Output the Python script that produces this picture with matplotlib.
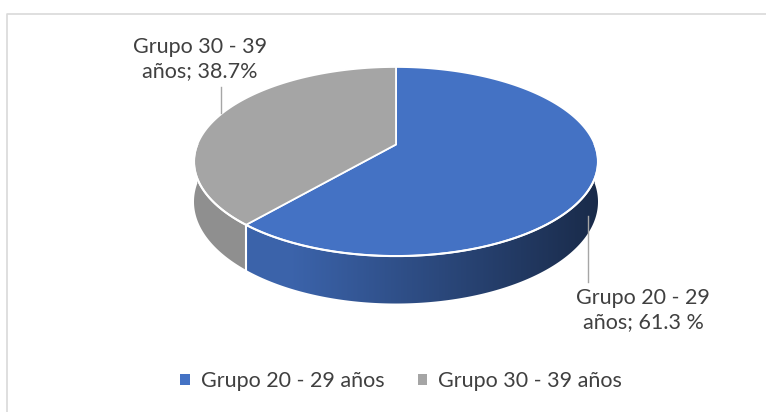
import matplotlib
matplotlib.use("Agg")
import matplotlib.pyplot as plt
import numpy as np
from matplotlib.colors import to_rgb
from matplotlib.patches import Patch, Polygon

# data
categories = ["Grupo 20 - 29 años", "Grupo 30 - 39 años"]
shares = [61.3, 38.7]
label_texts = ["Grupo 20 - 29\naños; 61.3 %", "Grupo 30 - 39\naños; 38.7%"]
colors = ["#4472C4", "#A5A5A5"]

# canvas / pie geometry (pixel units)
W, H = 766, 412
CX, CY = 396, 144.5
RX, RY = 198.7, 91.5
DEPTH = 38.9
PERSP = 0.18
TEXT = "#404040"
FONT = "Lato"
FSIZE = 15.5


def project(t_deg, h=0.0):
    """Angle clockwise from 12 o'clock -> screen point, h=1 is the pie bottom."""
    t = np.radians(t_deg)
    x3, z3 = np.sin(t), np.cos(t)
    s = 1.0 / (1.0 + PERSP * z3)
    return CX + RX * x3 * s, CY - RY * z3 * s + h * DEPTH * s


def shade(color, x):
    f = (x - (CX - RX)) / (2 * RX)
    k = min(0.87, 0.85 - 0.644 * (f - 0.27))
    return tuple(c * k for c in to_rgb(color))


fig = plt.figure(figsize=(W / 100, H / 100), dpi=100)
ax = fig.add_axes([0, 0, 1, 1])

# chart area border (only top / left visible in the crop)
ax.plot([7, 7, W], [H, 14, 14], color="#d9d9d9", lw=1.2, zorder=0)

bounds = np.concatenate([[0], np.cumsum(shares)]) / sum(shares) * 360

# side walls (front half only), shaded with a horizontal gradient
x_lo, x_hi = CX - RX * 1.1, CX + RX * 1.1
grad_x = np.linspace(x_lo, x_hi, 400)
for i, color in enumerate(colors):
    a0, a1 = max(bounds[i], 90), min(bounds[i + 1], 270)
    if a1 <= a0:
        continue
    ts = np.linspace(a0, a1, 200)
    xt, yt = project(ts)
    xb, yb = project(ts[::-1], 1)
    wall = Polygon(np.column_stack([np.r_[xt, xb], np.r_[yt, yb]]), closed=True,
                   facecolor="none", edgecolor="none", transform=ax.transData)
    ax.add_patch(wall)
    img = np.array([[shade(color, x) for x in grad_x]])
    im = ax.imshow(img, extent=(x_lo, x_hi, CY + RY * 2 + DEPTH * 2, CY - RY),
                   aspect="auto", interpolation="bilinear", zorder=1)
    im.set_clip_path(wall)

# white seam on the wall where slices meet
for b in bounds[1:-1]:
    if 90 <= b <= 270:
        x0, y0 = project(b)
        x1, y1 = project(b, 1)
        ax.plot([x0, x1], [y0, y1], color="white", lw=1.5, zorder=2)

# top faces
for i, color in enumerate(colors):
    ts = np.linspace(bounds[i], bounds[i + 1], 200)
    xs, ys = project(ts)
    pts = [(CX, CY)] + list(zip(xs, ys))
    ax.add_patch(Polygon(pts, closed=True, facecolor=color, edgecolor="white",
                         lw=1.3, joinstyle="round", zorder=3))

# white rim along the front edge
ts = np.linspace(90, 270, 200)
xs, ys = project(ts)
ax.plot(xs, ys, color="white", lw=1.5, zorder=4)

# data labels with leader lines
ax.plot([588, 588], [216, 282], color="#a6a6a6", lw=1, zorder=5)
ax.plot([221, 221], [87, 113], color="#a6a6a6", lw=1, zorder=5)
ax.text(643, 310, label_texts[0], ha="center", va="center", color=TEXT,
        fontsize=FSIZE, family=FONT, linespacing=1.25)
ax.text(200, 59, label_texts[1], ha="center", va="center", color=TEXT,
        fontsize=FSIZE, family=FONT, linespacing=1.25)

ax.set_xlim(0, W)
ax.set_ylim(H, 0)
ax.axis("off")

# legend
handles = [Patch(facecolor=c, edgecolor="none") for c in colors]
ax.legend(handles, categories, loc="center", bbox_to_anchor=(401 / W, 1 - 381 / H),
          ncol=2, frameon=False, handlelength=0.45, handleheight=0.45,
          handletextpad=0.5, columnspacing=1.55, labelcolor=TEXT,
          prop={"family": FONT, "size": FSIZE})

fig.savefig("out.png", dpi=100)
